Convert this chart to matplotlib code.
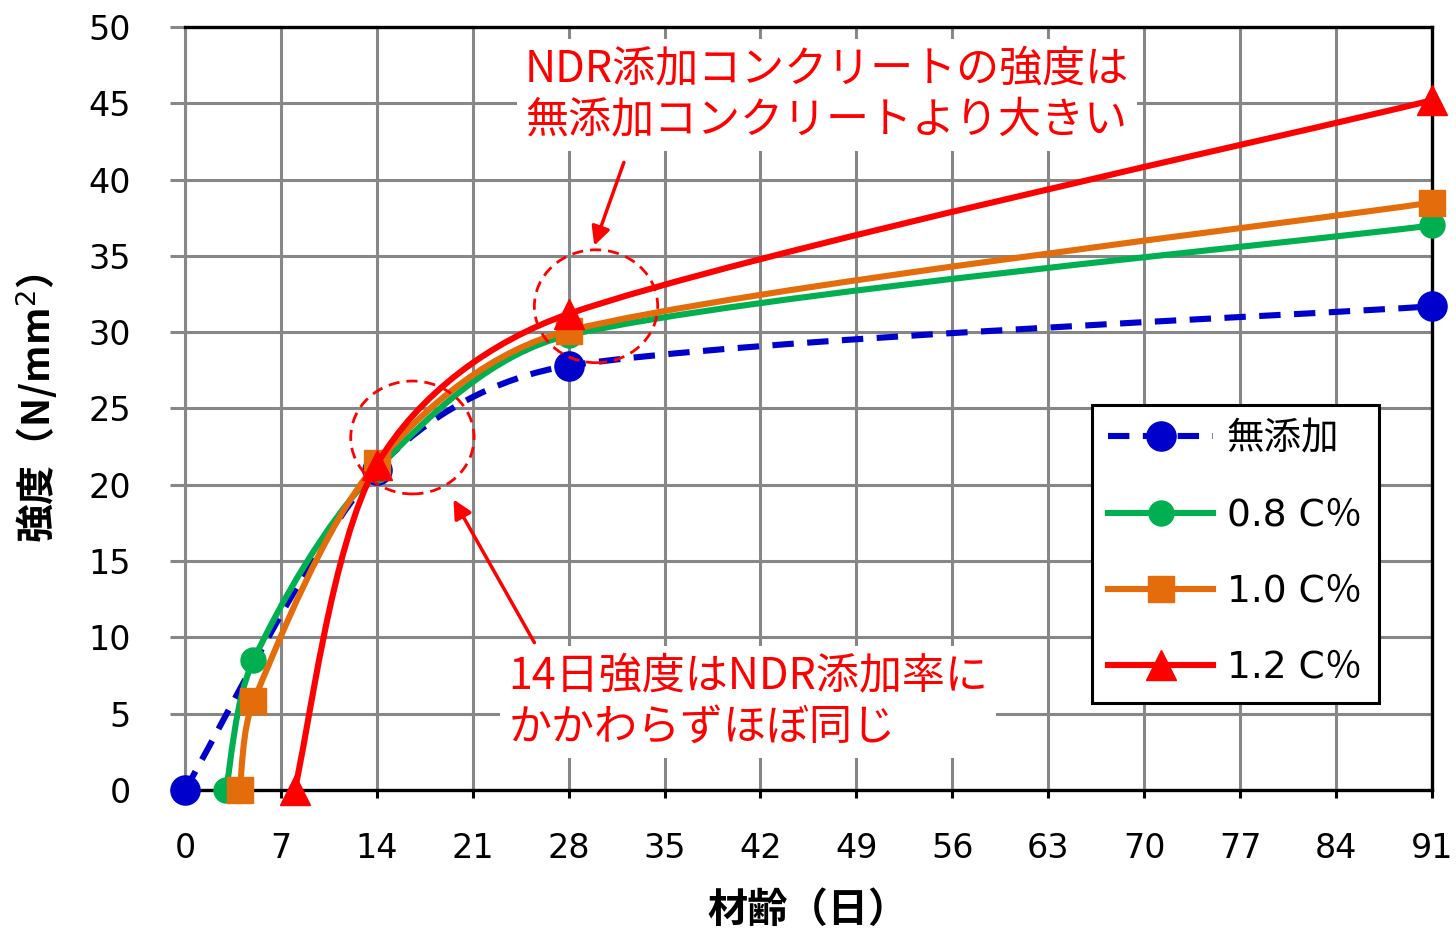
import matplotlib
matplotlib.use('Agg')
import matplotlib.pyplot as plt
from matplotlib.path import Path
from matplotlib.patches import PathPatch, Ellipse
from matplotlib.lines import Line2D
import numpy as np

plt.rcParams['font.family'] = ['DejaVu Sans', 'Noto Sans CJK JP']

# data
days_none = [0, 14, 28, 91]
str_none = [0, 21.0, 27.8, 31.7]
days_08 = [3, 5, 14, 28, 91]
str_08 = [0, 8.5, 21.0, 29.8, 37.0]
days_10 = [4, 5, 14, 28, 91]
str_10 = [0, 5.8, 21.4, 30.1, 38.5]
days_12 = [8, 14, 28, 91]
str_12 = [0, 21.3, 31.2, 45.2]

labels = ['無添加', '0.8 C％', '1.0 C％', '1.2 C％']
colors = ['#0000CC', '#00B050', '#E46C0A', '#FF0000']
markers = ['o', 'o', 's', '^']
xticks = list(range(0, 92, 7))
yticks = list(range(0, 51, 5))


def smooth_path(ax, xs, ys):
    # excel-like smoothed line, bezier segments built in screen space
    p = ax.transData.transform(np.column_stack([xs, ys]).astype(float))
    n = len(p)
    verts = [p[0]]
    codes = [Path.MOVETO]
    tang = []
    for i in range(n):
        a = p[i - 1] if i > 0 else p[i]
        b = p[i + 1] if i < n - 1 else p[i]
        tang.append((b - a) / 6)
    for i in range(n - 1):
        seg = np.hypot(*(p[i + 1] - p[i]))
        t1, t2 = tang[i], tang[i + 1]
        # keep handles shorter than a third of the segment
        l1, l2 = np.hypot(*t1), np.hypot(*t2)
        if l1 > seg / 3:
            t1 = t1 * seg / 3 / l1
        if l2 > seg / 3:
            t2 = t2 * seg / 3 / l2
        verts += [p[i] + t1, p[i + 1] - t2, p[i + 1]]
        codes += [Path.CURVE4] * 3
    verts = ax.transData.inverted().transform(np.array(verts))
    return Path(verts, codes)


fig = plt.figure(figsize=(14.56, 9.32), dpi=100)
ax = fig.add_axes([0.127, 0.1524, 0.8565, 0.8186])
ax.set_xlim(0, 91)
ax.set_ylim(0, 50)

series = [(days_none, str_none), (days_08, str_08), (days_10, str_10), (days_12, str_12)]
msizes = [21, 18, 19, 21]
handles = []
for k, (xs, ys) in enumerate(series):
    ls = (0, (3.5, 2.2)) if k == 0 else '-'
    patch = PathPatch(smooth_path(ax, xs, ys), facecolor='none', edgecolor=colors[k],
                      lw=4.4, linestyle=ls, zorder=3 + k, capstyle='butt')
    ax.add_patch(patch)
    ax.plot(xs, ys, linestyle='none', marker=markers[k], ms=msizes[k],
            color=colors[k], zorder=3.5 + k, clip_on=False)
    handles.append(Line2D([], [], color=colors[k], lw=4.4, linestyle=ls,
                          marker=markers[k], ms=msizes[k]))

ax.set_xticks(xticks)
ax.set_yticks(yticks)
ax.grid(True, color='#878787', lw=2.2, zorder=0)
ax.set_axisbelow(True)
for s in ['top', 'right', 'bottom']:
    ax.spines[s].set_color('black')
    ax.spines[s].set_linewidth(2.4)
ax.spines['left'].set_color('#878787')
ax.spines['left'].set_linewidth(2.2)
ax.tick_params(axis='x', direction='out', length=6, width=2.2, color='black',
               labelsize=24, pad=24)
ax.tick_params(axis='y', direction='out', length=11, width=2.2, color='#878787',
               labelsize=24, pad=28)

ax.set_xlabel('材齢（日）', fontsize=29, fontweight='bold',
              family=['Noto Sans CJK JP'], labelpad=18)
ax.set_ylabel('強度（N/mm$^2$）', fontsize=28, fontweight='bold',
              family=['Noto Sans CJK JP', 'DejaVu Sans'], labelpad=20)

leg = ax.legend(handles, labels, loc='upper left', bbox_to_anchor=(0.727, 0.505),
                fontsize=27, handlelength=2.8, labelspacing=1.07, borderpad=0.45,
                handletextpad=0.35, fancybox=False, framealpha=1,
                edgecolor='black', borderaxespad=0)
leg.get_frame().set_linewidth(2.2)
leg.set_zorder(10)

# annotation circles
for cx, cy in [(16.6, 23.1), (30.0, 31.7)]:
    ax.add_patch(Ellipse((cx, cy), 9.0, 7.4, fill=False, edgecolor='#FF0000',
                         lw=2, linestyle=(0, (4, 2.5)), zorder=9))

tkw = dict(color='#FF0000', family=['Noto Sans CJK JP'], zorder=11,
           bbox=dict(facecolor='white', edgecolor='none', pad=6))
ax.text(24.8, 48.65, 'NDR添加コンクリートの強度は\n無添加コンクリートより大きい',
        fontsize=31, va='top', ha='left', linespacing=1.22, **tkw)
ax.text(23.6, 8.9, '14日強度はNDR添加率に\nかかわらずほぼ同じ',
        fontsize=31, va='top', ha='left', linespacing=1.22, **tkw)

ax.annotate('', xy=(29.8, 35.5), xytext=(32.1, 41.3),
            arrowprops=dict(arrowstyle='-|>', color='#FF0000', lw=2.5,
                            mutation_scale=28), zorder=11)
ax.annotate('', xy=(19.5, 19.2), xytext=(25.6, 9.5),
            arrowprops=dict(arrowstyle='-|>', color='#FF0000', lw=2.5,
                            mutation_scale=28), zorder=11)

fig.savefig('out.png', dpi=100)
